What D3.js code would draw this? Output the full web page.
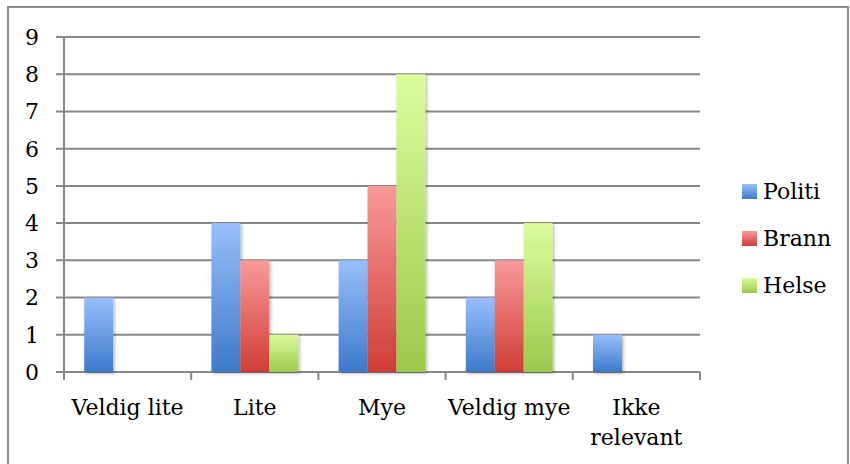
<!DOCTYPE html>
<html>
<head>
<meta charset="utf-8">
<script src="https://cdn.jsdelivr.net/npm/d3@7"></script>
<style>
    body { margin: 0; background: #fff; }
</style>
</head>
<body>
<div id="chart"></div>
<script>
    const categories = ["Veldig lite", "Lite", "Mye", "Veldig mye", "Ikke relevant"];
    const seriesNames = ["Politi", "Brann", "Helse"];
    const politi = [2, 4, 3, 2, 1];
    const brann = [0, 3, 5, 3, 0];
    const helse = [0, 1, 8, 4, 0];
    const yTicks = [0, 1, 2, 3, 4, 5, 6, 7, 8, 9];

    const seriesValues = [politi, brann, helse];
    const colors = [
        { top: "#98bffb", bottom: "#3c7acb" },
        { top: "#f99b99", bottom: "#d03c35" },
        { top: "#dcfc9d", bottom: "#9bc94a" }
    ];
    const FONT = "'DejaVu Serif', 'Liberation Serif', serif";

    const W = 850, H = 464;
    const margin = { top: 37, right: 150, bottom: 92, left: 64 };
    const width = 700 - margin.left;
    const height = 372 - margin.top;

    const root = d3.select("#chart").append("svg")
        .attr("width", W)
        .attr("height", H)
        .attr("font-family", FONT);

    const defs = root.append("defs");
    colors.forEach((c, i) => {
        const g = defs.append("linearGradient")
            .attr("id", "grad" + i)
            .attr("x1", 0).attr("y1", 0).attr("x2", 0).attr("y2", 1);
        g.append("stop").attr("offset", "0%").attr("stop-color", c.top);
        g.append("stop").attr("offset", "100%").attr("stop-color", c.bottom);
    });
    const shadow = defs.append("filter").attr("id", "shadow")
        .attr("x", "-30%").attr("y", "-10%").attr("width", "160%").attr("height", "130%");
    shadow.append("feDropShadow")
        .attr("dx", 1.5).attr("dy", 1.5).attr("stdDeviation", 1.8)
        .attr("flood-color", "#000").attr("flood-opacity", 0.3);

    // outer frame
    root.append("rect")
        .attr("x", 8).attr("y", 7)
        .attr("width", 840).attr("height", 470)
        .attr("fill", "none")
        .attr("stroke", "#8c8c8c")
        .attr("stroke-width", 2);

    const svg = root.append("g")
        .attr("transform", `translate(${margin.left},${margin.top})`);

    const x0 = d3.scaleBand().domain(categories).range([0, width]).padding(0);
    const x1 = d3.scaleBand().domain(seriesNames).range([0, x0.bandwidth()])
        .paddingInner(0).paddingOuter(0.7);
    const y = d3.scaleLinear().domain([0, 9]).range([height, 0]);

    // gridlines
    svg.append("g")
        .selectAll("line")
        .data(yTicks)
        .enter().append("line")
        .attr("x1", -8).attr("x2", width)
        .attr("y1", d => y(d)).attr("y2", d => y(d))
        .attr("stroke", "#878787")
        .attr("stroke-width", 2);

    // y axis line
    svg.append("line")
        .attr("x1", 0).attr("x2", 0)
        .attr("y1", y(9)).attr("y2", height + 8)
        .attr("stroke", "#878787")
        .attr("stroke-width", 2);

    // category ticks
    svg.append("g")
        .selectAll("line")
        .data(categories.slice(1).concat(["__end"]))
        .enter().append("line")
        .attr("x1", (d, i) => i < categories.length - 1 ? x0(d) : width)
        .attr("x2", (d, i) => i < categories.length - 1 ? x0(d) : width)
        .attr("y1", height).attr("y2", height + 8)
        .attr("stroke", "#878787")
        .attr("stroke-width", 2);

    // y tick labels
    svg.append("g")
        .selectAll("text")
        .data(yTicks)
        .enter().append("text")
        .attr("x", -25)
        .attr("y", d => y(d))
        .attr("dy", "0.36em")
        .attr("text-anchor", "end")
        .style("font-size", "22px")
        .text(d => d);

    // bars
    const groups = svg.selectAll(".grp")
        .data(categories)
        .enter().append("g")
        .attr("class", "grp")
        .attr("transform", d => `translate(${x0(d)},0)`);

    groups.selectAll("rect")
        .data((d, ci) => seriesNames.map((s, si) => ({ s, si, v: seriesValues[si][ci] })))
        .enter().filter(d => d.v > 0).append("rect")
        .attr("x", d => x1(d.s))
        .attr("y", d => y(d.v))
        .attr("width", x1.bandwidth())
        .attr("height", d => height - y(d.v))
        .attr("fill", d => `url(#grad${d.si})`)
        .attr("filter", "url(#shadow)");

    // category labels
    const labels = svg.append("g")
        .selectAll("text")
        .data(categories)
        .enter().append("text")
        .attr("x", d => x0(d) + x0.bandwidth() / 2)
        .attr("y", height + 43)
        .attr("text-anchor", "middle")
        .style("font-size", "22px");
    labels.each(function(d) {
        const t = d3.select(this);
        const words = d === "Ikke relevant" ? ["Ikke", "relevant"] : [d];
        words.forEach((w, i) => {
            t.append("tspan")
                .attr("x", x0(d) + x0.bandwidth() / 2)
                .attr("dy", i === 0 ? 0 : 30)
                .text(w);
        });
    });

    // legend
    const legend = root.append("g")
        .attr("transform", "translate(742,184)");
    const items = legend.selectAll("g")
        .data(seriesNames)
        .enter().append("g")
        .attr("transform", (d, i) => `translate(0,${i * 47})`);
    items.append("rect")
        .attr("width", 15).attr("height", 15)
        .attr("fill", (d, i) => `url(#grad${i})`);
    items.append("text")
        .attr("x", 21)
        .attr("y", 15)
        .style("font-size", "22px")
        .text(d => d);
</script>
</body>
</html>
